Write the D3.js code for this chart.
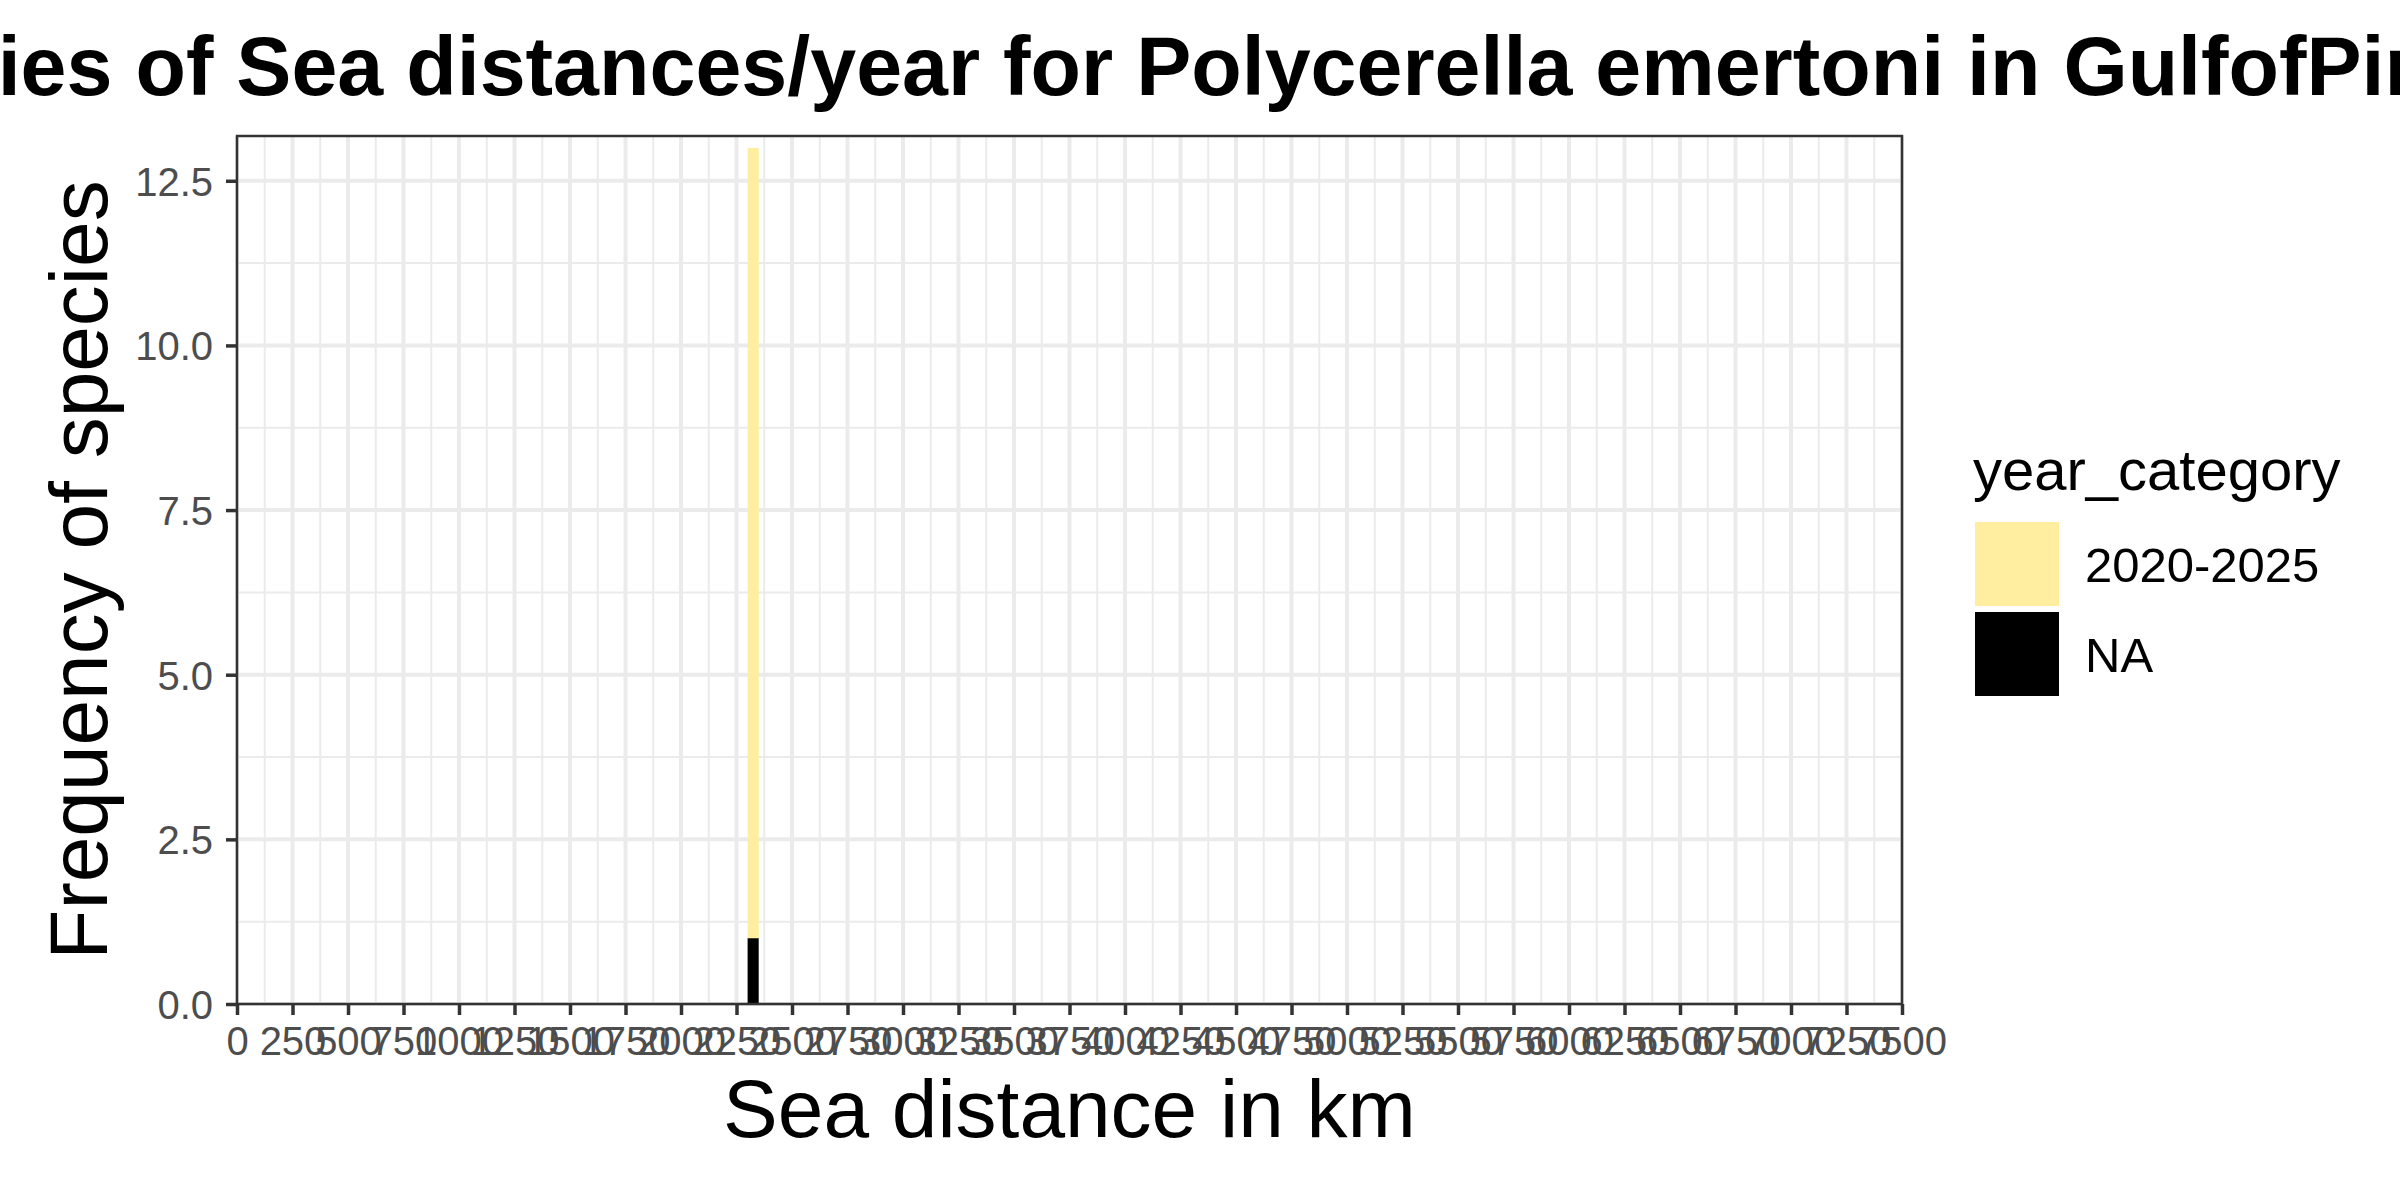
<!DOCTYPE html>
<html>
<head>
<meta charset="utf-8">
<script src="https://cdn.jsdelivr.net/npm/d3@7/dist/d3.min.js"></script>
<style>
  html, body { margin: 0; padding: 0; background: #ffffff; }
  svg { display: block; }
  text { font-family: "Liberation Sans", Arial, sans-serif; }
</style>
</head>
<body>
<script>
// ---- data ----
const categories = ["2020-2025", "NA"];
const categoryColors = ["#FFEDA0", "#000000"];
const binStart = [2300];
const binEnd = [2350];
const count2020_2025 = [12];
const countNA = [1];
const xTickValues = [0, 250, 500, 750, 1000, 1250, 1500, 1750, 2000, 2250, 2500, 2750, 3000, 3250, 3500, 3750, 4000, 4250, 4500, 4750, 5000, 5250, 5500, 5750, 6000, 6250, 6500, 6750, 7000, 7250, 7500];
const yTickValues = [0, 2.5, 5, 7.5, 10, 12.5];
const titleText = "Frequencies of Sea distances/year for Polycerella emertoni in GulfofPiran";
const xTitle = "Sea distance in km";
const yTitle = "Frequency of species";
const legendTitle = "year_category";

// ---- layout ----
const W = 2400, H = 1200;
const P = { left: 237, right: 1902, top: 136, bottom: 1004 };

const svg = d3.select("body").append("svg")
  .attr("width", W).attr("height", H)
  .attr("viewBox", `0 0 ${W} ${H}`);
svg.append("rect").attr("width", W).attr("height", H).attr("fill", "#ffffff");

const x = d3.scaleLinear().domain([0, 7500]).range([P.left, P.right]);
const y = d3.scaleLinear().domain([0, 13.18]).range([P.bottom, P.top]);
const color = d3.scaleOrdinal().domain(categories).range(categoryColors);

// grid
const grid = svg.append("g");
const xMinor = d3.pairs(xTickValues).map(([a, b]) => (a + b) / 2);
const yMinor = d3.pairs(yTickValues).map(([a, b]) => (a + b) / 2);
grid.selectAll(".xmin").data(xMinor).join("line")
  .attr("x1", d => x(d)).attr("x2", d => x(d))
  .attr("y1", P.top).attr("y2", P.bottom)
  .attr("stroke", "#EBEBEB").attr("stroke-width", 2);
grid.selectAll(".ymin").data(yMinor).join("line")
  .attr("y1", d => y(d)).attr("y2", d => y(d))
  .attr("x1", P.left).attr("x2", P.right)
  .attr("stroke", "#EBEBEB").attr("stroke-width", 2);
grid.selectAll(".xmaj").data(xTickValues).join("line")
  .attr("x1", d => x(d)).attr("x2", d => x(d))
  .attr("y1", P.top).attr("y2", P.bottom)
  .attr("stroke", "#EBEBEB").attr("stroke-width", 4);
grid.selectAll(".ymaj").data(yTickValues).join("line")
  .attr("y1", d => y(d)).attr("y2", d => y(d))
  .attr("x1", P.left).attr("x2", P.right)
  .attr("stroke", "#EBEBEB").attr("stroke-width", 4);

// bars (stacked: NA at bottom, 2020-2025 above)
const rows = binStart.map((b, i) => ({ x0: b, x1: binEnd[i], "2020-2025": count2020_2025[i], "NA": countNA[i] }));
const stack = d3.stack().keys(["NA", "2020-2025"]);
const series = stack(rows);
svg.append("g").selectAll("g").data(series).join("g")
  .attr("fill", s => color(s.key))
  .selectAll("rect").data(s => s).join("rect")
  .attr("x", d => x(d.data.x0))
  .attr("width", d => x(d.data.x1) - x(d.data.x0))
  .attr("y", d => y(d[1]))
  .attr("height", d => y(d[0]) - y(d[1]));

// panel border
svg.append("rect")
  .attr("x", P.left).attr("y", P.top)
  .attr("width", P.right - P.left).attr("height", P.bottom - P.top)
  .attr("fill", "none").attr("stroke", "#333333").attr("stroke-width", 2.5);

// axes
const xAxis = svg.append("g").attr("transform", `translate(0,${P.bottom})`)
  .call(d3.axisBottom(x).tickValues(xTickValues).tickFormat(d3.format("d")).tickSize(11).tickPadding(12));
const yAxis = svg.append("g").attr("transform", `translate(${P.left},0)`)
  .call(d3.axisLeft(y).tickValues(yTickValues).tickFormat(d3.format(".1f")).tickSize(11).tickPadding(13));
[xAxis, yAxis].forEach(a => {
  a.select(".domain").remove();
  a.selectAll(".tick line").attr("stroke", "#333333").attr("stroke-width", 3.5);
  a.selectAll(".tick text").attr("fill", "#4D4D4D")
    .style("font-family", '"Liberation Sans", Arial, sans-serif').style("font-size", "40px");
});
yAxis.selectAll(".tick text").attr("dy", "0.36em");

// titles
const cx = (P.left + P.right) / 2;
svg.append("text").attr("x", cx).attr("y", 95).attr("text-anchor", "middle")
  .style("font-size", "82.6px").style("font-weight", "bold").attr("fill", "#000")
  .text(titleText);
svg.append("text").attr("x", cx).attr("y", 1137).attr("text-anchor", "middle")
  .style("font-size", "82px").attr("fill", "#000").text(xTitle);
svg.append("text").attr("transform", `translate(107,${(P.top + P.bottom) / 2}) rotate(-90)`)
  .attr("text-anchor", "middle").style("font-size", "82px").attr("fill", "#000").text(yTitle);

// legend
const lg = svg.append("g");
lg.append("text").attr("x", 1973).attr("y", 490).style("font-size", "58px").attr("fill", "#000").text(legendTitle);
const keyY = [522, 612];
lg.selectAll(".key").data(categories).join("rect")
  .attr("x", 1975).attr("y", (d, i) => keyY[i]).attr("width", 84).attr("height", 84)
  .attr("fill", d => color(d));
lg.selectAll(".lab").data(categories).join("text")
  .attr("x", 2085).attr("y", (d, i) => keyY[i] + 42 + 17.5)
  .style("font-size", "49px").attr("fill", "#000").text(d => d);
</script>
</body>
</html>
